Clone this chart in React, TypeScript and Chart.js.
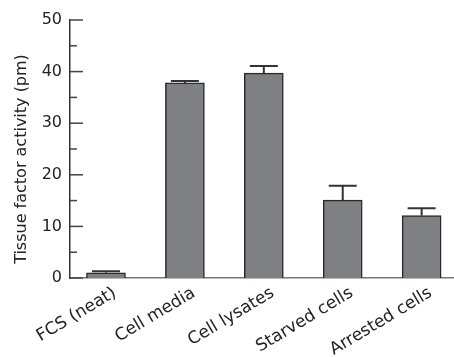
import React, { useEffect, useRef } from "react";
import { Chart, registerables } from "chart.js";

Chart.register(...registerables);

const categories = ["FCS (neat)", "Cell media", "Cell lysates", "Starved cells", "Arrested cells"];
const values = [1.0, 37.8, 39.7, 15.1, 12.1];
const errors = [0.3, 0.4, 1.4, 2.8, 1.4];
const yTicks = [0, 10, 20, 30, 40, 50];
const yMinorTicks = [5, 15, 25, 35, 45];
const yTitle = "Tissue factor activity (pm)";

const FONT = "'DejaVu Sans', sans-serif";

export default function App() {
  const ref = useRef<HTMLCanvasElement | null>(null);

  useEffect(() => {
    const canvas = ref.current;
    if (!canvas) return;

    const extras = {
      id: "extras",
      afterDatasetsDraw(chart: any) {
        const ctx = chart.ctx;
        const y = chart.scales.y;
        const meta = chart.getDatasetMeta(0);
        ctx.save();
        // error bars
        ctx.strokeStyle = "#333";
        ctx.lineWidth = 2;
        meta.data.forEach((bar: any, i: number) => {
          const top = y.getPixelForValue(values[i] + errors[i]);
          const base = y.getPixelForValue(values[i]);
          ctx.beginPath();
          ctx.moveTo(bar.x, base);
          ctx.lineTo(bar.x, top);
          ctx.moveTo(bar.x - 14, top);
          ctx.lineTo(bar.x + 14, top);
          ctx.stroke();
        });
        // inward y ticks
        const left = chart.chartArea.left;
        ctx.strokeStyle = "#444";
        ctx.lineWidth = 1.5;
        yTicks.forEach((v) => {
          const p = y.getPixelForValue(v);
          ctx.beginPath();
          ctx.moveTo(left, p);
          ctx.lineTo(left + 13, p);
          ctx.stroke();
        });
        yMinorTicks.forEach((v) => {
          const p = y.getPixelForValue(v);
          ctx.beginPath();
          ctx.moveTo(left, p);
          ctx.lineTo(left + 7, p);
          ctx.stroke();
        });
        // y title
        ctx.translate(22, 159);
        ctx.rotate(-Math.PI / 2);
        ctx.fillStyle = "#222";
        ctx.font = "16px " + FONT;
        ctx.textAlign = "center";
        ctx.textBaseline = "middle";
        ctx.fillText(yTitle, 0, 0);
        ctx.restore();
      },
    };

    const chart = new Chart(canvas, {
      type: "bar",
      data: {
        datasets: [
          {
            data: values.map((v, i) => ({ x: i, y: v })),
            backgroundColor: "#7f8084",
            borderColor: "#2a2a2a",
            borderWidth: 1.5,
            barThickness: 39,
          },
        ],
      },
      options: {
        animation: false,
        responsive: false,
        maintainAspectRatio: false,
        layout: { padding: { top: 20, right: 0, left: 0, bottom: 0 } },
        plugins: { legend: { display: false }, tooltip: { enabled: false } },
        scales: {
          x: {
            type: "linear",
            offset: false,
            min: -0.456,
            max: 4.41,
            grid: { display: false, drawTicks: false },
            border: { display: true, color: "#777", width: 1.5 },
            afterFit: (s: any) => {
              s.height = 79;
            },
            ticks: {
              stepSize: 1,
              includeBounds: false,
              autoSkip: false,
              minRotation: 31,
              maxRotation: 31,
              padding: 5,
              labelOffset: 9,
              color: "#222",
              font: { family: FONT, size: 17 },
              callback: (v: any) => (Number.isInteger(v) ? categories[v] : ""),
            },
          },
          y: {
            min: 0,
            max: 50,
            grid: { display: false, drawTicks: false },
            border: { display: true, color: "#333", width: 1.5 },
            afterFit: (s: any) => {
              s.width = 70;
            },
            ticks: {
              stepSize: 10,
              padding: 8,
              color: "#222",
              font: { family: FONT, size: 16 },
            },
          },
        },
      },
      plugins: [extras],
    });
    return () => chart.destroy();
  }, []);

  return (
    <div style={{ position: "absolute", left: 0, top: 0, width: 454, height: 357, background: "#fff" }}>
      <canvas ref={ref} width={454} height={357} />
    </div>
  );
}
